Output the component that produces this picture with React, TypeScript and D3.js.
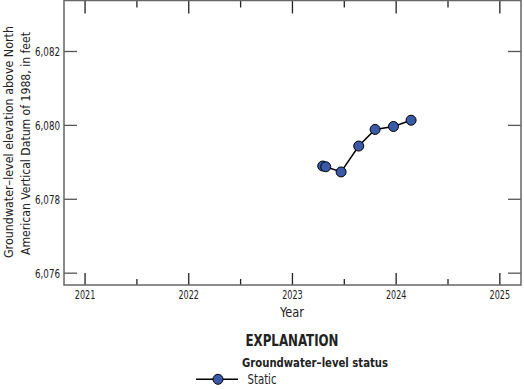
import React from "react";
import * as d3 from "d3";

const dates = [2023.292, 2023.321, 2023.469, 2023.639, 2023.797, 2023.974, 2024.144];
const levels = [6078.9, 6078.88, 6078.74, 6079.44, 6079.89, 6079.97, 6080.14];
const yTicks = [6076, 6078, 6080, 6082];
const xMajor = [2021, 2022, 2023, 2024, 2025];
const xMinor = [2021.5, 2022.5, 2023.5, 2024.5];

const FONT = "'Liberation Sans Narrow', 'DejaVu Sans Condensed', 'Roboto Condensed', sans-serif";

export default function App() {
  const W = 524, H = 389;
  const L = 64, R = 521, T = 0.5, B = 285;
  const x = d3.scaleLinear().domain([2020.797, 2025.204]).range([L, R]);
  const y = d3.scaleLinear().domain([6075.68, 6083.38]).range([B, T]);
  const line = d3.line<number>().x((d, i) => x(dates[i])).y((d) => y(d));
  const fmt = d3.format(",");
  const tickC = "#555";
  const txt = "#222";
  return (
    <svg width={W} height={H} style={{ position: "absolute", left: 0, top: 0, fontFamily: FONT }}>
      <rect x={0} y={0} width={W} height={H} fill="#fff" />
      {yTicks.map((t) => (
        <g key={t}>
          <line x1={L} x2={L + 13} y1={y(t)} y2={y(t)} stroke={tickC} strokeWidth={1.3} />
          <line x1={R - 13} x2={R} y1={y(t)} y2={y(t)} stroke={tickC} strokeWidth={1.3} />
          <text x={60} y={y(t) + 4.7} textAnchor="end" fontSize={13} fill={txt}
            textLength={25} lengthAdjust="spacingAndGlyphs">{fmt(t)}</text>
        </g>
      ))}
      {xMajor.map((t) => (
        <g key={t}>
          <line x1={x(t)} x2={x(t)} y1={B} y2={B - 12} stroke="#222" strokeWidth={1.3} />
          <line x1={x(t)} x2={x(t)} y1={T} y2={T + 13} stroke="#222" strokeWidth={1.3} />
          <text x={x(t)} y={299.3} textAnchor="middle" fontSize={13} fill={txt}
            textLength={20.5} lengthAdjust="spacingAndGlyphs">{t}</text>
        </g>
      ))}
      {xMinor.map((t) => (
        <g key={t}>
          <line x1={x(t)} x2={x(t)} y1={B} y2={B - 6} stroke="#222" strokeWidth={1.3} />
          <line x1={x(t)} x2={x(t)} y1={T} y2={T + 7} stroke="#222" strokeWidth={1.3} />
        </g>
      ))}
      <rect x={L} y={T} width={R - L} height={B - T} fill="none" stroke="#666" strokeWidth={1.5} />
      <path d={line(levels) || ""} fill="none" stroke="#000" strokeWidth={1.5} />
      {levels.map((v, i) => (
        <circle key={i} cx={x(dates[i])} cy={y(v)} r={5} fill="#3a5aa8" stroke="#000" strokeWidth={1} />
      ))}
      <g transform="translate(12.7,142) rotate(-90)">
        <text x={0} y={0} textAnchor="middle" fontSize={13} fill={txt}
          textLength={232} lengthAdjust="spacingAndGlyphs">Groundwater–level elevation above North</text>
      </g>
      <g transform="translate(30.3,143.5) rotate(-90)">
        <text x={0} y={0} textAnchor="middle" fontSize={13} fill={txt}
          textLength={223} lengthAdjust="spacingAndGlyphs">American Vertical Datum of 1988, in feet</text>
      </g>
      <text x={292} y={316.6} textAnchor="middle" fontSize={13.5} fill={txt}
        textLength={24} lengthAdjust="spacingAndGlyphs">Year</text>
      <text x={292} y={345.5} textAnchor="middle" fontSize={15} fontWeight="bold" fill={txt}
        textLength={93} lengthAdjust="spacingAndGlyphs">EXPLANATION</text>
      <text x={315} y={366.5} textAnchor="middle" fontSize={13} fontWeight="bold" fill={txt}
        textLength={146} lengthAdjust="spacingAndGlyphs">Groundwater–level status</text>
      <line x1={196} x2={238} y1={379.3} y2={379.3} stroke="#000" strokeWidth={1.5} />
      <circle cx={218} cy={379.3} r={5} fill="#3a5aa8" stroke="#000" strokeWidth={1} />
      <text x={247.5} y={384} fontSize={13.5} fill={txt}
        textLength={29} lengthAdjust="spacingAndGlyphs">Static</text>
    </svg>
  );
}
